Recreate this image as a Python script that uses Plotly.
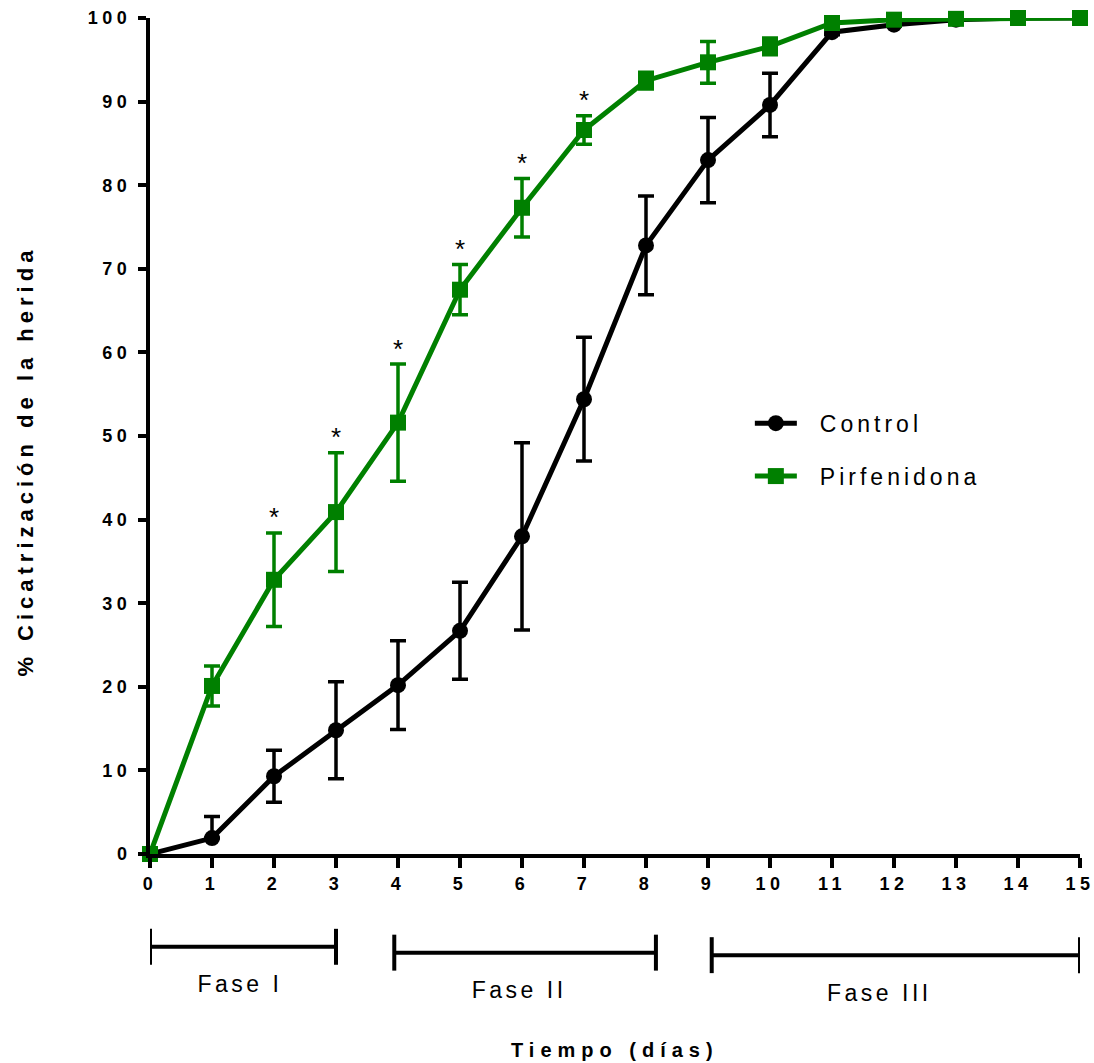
import plotly.graph_objects as go

days = list(range(16))
control = [0, 1.9, 9.3, 14.8, 20.2, 26.7, 38.0, 54.4, 72.8, 83.0, 89.6, 98.3, 99.2, 99.8, 100, 100]
control_err = [0, 2.6, 3.1, 5.8, 5.3, 5.8, 11.2, 7.4, 5.9, 5.1, 3.8, 0.3, 0.2, 0.1, 0, 0]
pirf = [0, 20.1, 32.8, 40.9, 51.6, 67.5, 77.3, 86.6, 92.5, 94.7, 96.6, 99.4, 99.8, 99.9, 100, 100]
pirf_err = [0, 2.4, 5.6, 7.1, 7.0, 3.0, 3.5, 1.7, 1.0, 2.5, 1.0, 0.3, 0.1, 0.1, 0, 0]
sig_days = [2, 3, 4, 5, 6, 7]
phase_names = ["Fase I", "Fase II", "Fase III"]
phase_start = [0, 3.94, 9.06]
phase_end = [3, 8.16, 15]
phase_label_x = [1.45, 5.95, 11.77]
phase_ypos = [-0.111, -0.118, -0.121]

GREEN = "#008000"
font = "Liberation Sans, Arial, sans-serif"

fig = go.Figure()
fig.add_trace(go.Scatter(
    x=days, y=control, name="Control", mode="lines+markers",
    line=dict(color="black", width=5),
    marker=dict(symbol="circle", size=16, color="black"),
    error_y=dict(type="data", symmetric=False,
                 array=control_err, arrayminus=[e if d > 1 else 0 for d, e in zip(days, control_err)],
                 color="black", thickness=3.5, width=8),
    cliponaxis=False, legendgroup="a",
))
fig.add_trace(go.Scatter(
    x=days, y=pirf, name="Pirfenidona", mode="lines+markers",
    line=dict(color=GREEN, width=5),
    marker=dict(symbol="square", size=16, color=GREEN),
    error_y=dict(type="data", array=pirf_err, color=GREEN, thickness=3.5, width=8),
    cliponaxis=False, legendgroup="b",
))
fig.add_trace(go.Scatter(
    x=sig_days, y=[pirf[d] + pirf_err[d] for d in sig_days],
    mode="text", text=["*"] * len(sig_days), textposition="top center",
    textfont=dict(family=font, size=26, color="black"),
    showlegend=False, cliponaxis=False,
))

shapes = []
annotations = []
for name, s, e, lx, yp in zip(phase_names, phase_start, phase_end, phase_label_x, phase_ypos):
    shapes.append(dict(type="line", xref="x", yref="paper", x0=s, x1=e, y0=yp, y1=yp,
                       line=dict(color="black", width=4)))
    for xx in (s, e):
        shapes.append(dict(type="line", xref="x", yref="paper", x0=xx, x1=xx,
                           y0=yp - 0.0215, y1=yp + 0.0215, line=dict(color="black", width=4)))
    annotations.append(dict(x=lx, y=yp - 0.045, xref="x", yref="paper",
                            text=name, showarrow=False,
                            font=dict(family=font, size=23, color="black"), yanchor="middle"))

annotations.append(dict(x=0.5, y=-0.234, xref="paper", yref="paper", text="<b>Tiempo (días)</b>",
                        showarrow=False, font=dict(family=font, size=20, color="black"), yanchor="middle"))
annotations.append(dict(x=-0.134, y=0.471, xref="paper", yref="paper",
                        text="<b>% Cicatrización de la herida</b>", textangle=-90,
                        showarrow=False, font=dict(family=font, size=22, color="black"),
                        xanchor="center", yanchor="middle"))

fig.update_layout(
    width=1094, height=1063,
    margin=dict(l=150, r=14, t=18, b=209),
    plot_bgcolor="white", paper_bgcolor="white",
    shapes=shapes, annotations=annotations,
    legend=dict(x=0.645, y=0.541, xanchor="left", yanchor="top",
                font=dict(family=font, size=23, color="black"),
                tracegroupgap=20, bgcolor="rgba(0,0,0,0)", itemwidth=42),
    xaxis=dict(range=[0, 15], tickvals=days, showgrid=False, zeroline=False, automargin=False,
               showline=True, linecolor="black", linewidth=4,
               ticks="outside", ticklen=10, tickwidth=4, tickcolor="black",
               tickfont=dict(family=font, size=18, color="black", weight="bold")),
    yaxis=dict(range=[0, 100], tickvals=list(range(0, 101, 10)), showgrid=False, zeroline=False,
               automargin=False, ticklabelstandoff=3,
               showline=True, linecolor="black", linewidth=4,
               ticks="outside", ticklen=8, tickwidth=4, tickcolor="black",
               tickfont=dict(family=font, size=18, color="black", weight="bold")),
)

css = (".xtick text, .ytick text{letter-spacing:4.5px;}"
       ".legendtext{letter-spacing:4px;transform:translateX(18px);}"
       ".legend .scrollbox{clip-path:none !important;}"
       ".annotation-text{letter-spacing:3.5px;}"
       ".annotation[data-index=\"3\"] .annotation-text{letter-spacing:6px;}"
       ".annotation[data-index=\"4\"] .annotation-text{letter-spacing:5px;}")
post = ("var s=document.createElement('style');s.textContent='" + css + "';"
        "document.head.appendChild(s);"
        "var gd=document.getElementById('{plot_id}');Plotly.redraw(gd);")
fig.write_html("out.html", post_script=post)
